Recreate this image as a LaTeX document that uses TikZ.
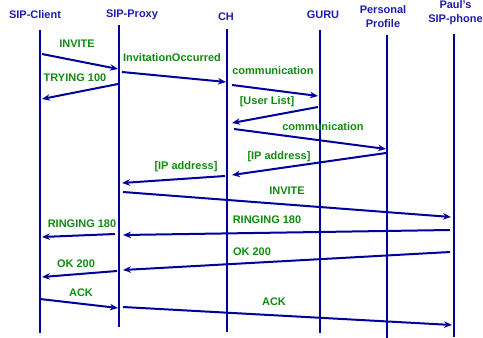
\documentclass[tikz,border=0pt]{standalone}
\usepackage{fontspec}
\setmainfont{Liberation Sans}
\usetikzlibrary{arrows.meta}
\definecolor{lifeblue}{HTML}{00009C}
\definecolor{headblue}{HTML}{1C1CB0}
\definecolor{lblgreen}{HTML}{118C11}

\begin{document}
\begin{tikzpicture}[x=1pt,y=-1pt,
  life/.style={line width=2.9pt,color=lifeblue},
  msg/.style={line width=2pt,color=lifeblue,-{Stealth[length=8pt,width=6.5pt]}},
  head/.style={font=\bfseries\fontsize{11}{14}\selectfont,text=headblue,align=center,inner sep=0pt},
  lbl/.style={font=\bfseries\fontsize{11}{13}\selectfont,text=lblgreen,inner sep=0pt}]
  \useasboundingbox (0,0) rectangle (483,338);
  % headers
  \node[head] (hClient) at (35,15) {SIP-Client};
  \node[head] (hProxy) at (132,15) {SIP-Proxy};
  \node[head] (hCH) at (226,17) {CH};
  \node[head] (hGuru) at (323,15) {GURU};
  \node[head] (hProfile) at (383,17) {Personal\\Profile};
  \node[head] (hPhone) at (455.5,13) {Paul’s\\SIP-phone};
  % lifelines
  \coordinate (lClientT) at (40,30);   \coordinate (lClientB) at (40,333);
  \coordinate (lProxyT) at (119,25);   \coordinate (lProxyB) at (119,327);
  \coordinate (lCHT) at (227,29);      \coordinate (lCHB) at (227,332);
  \coordinate (lGuruT) at (320,30);    \coordinate (lGuruB) at (320,333);
  \coordinate (lProfileT) at (387,35); \coordinate (lProfileB) at (387,338);
  \coordinate (lPhoneT) at (454,34);   \coordinate (lPhoneB) at (454,337);
  \draw[life] (lClientT) -- (lClientB);
  \draw[life] (lProxyT) -- (lProxyB);
  \draw[life] (lCHT) -- (lCHB);
  \draw[life] (lGuruT) -- (lGuruB);
  \draw[life] (lProfileT) -- (lProfileB);
  \draw[life] (lPhoneT) -- (lPhoneB);
  % message end points
  \coordinate (m1a) at (42,54);   \coordinate (m1b) at (118,69);
  \coordinate (m2a) at (122,72);  \coordinate (m2b) at (226,82);
  \coordinate (m3a) at (118,84);  \coordinate (m3b) at (42,99);
  \coordinate (m4a) at (232,85);  \coordinate (m4b) at (318,96);
  \coordinate (m5a) at (318,107); \coordinate (m5b) at (232,123);
  \coordinate (m6a) at (234,129); \coordinate (m6b) at (386,149);
  \coordinate (m7a) at (386,153); \coordinate (m7b) at (232,175);
  \coordinate (m8a) at (225,176); \coordinate (m8b) at (122,183);
  \coordinate (m9a) at (123,192); \coordinate (m9b) at (451,217);
  \coordinate (m10a) at (450,230); \coordinate (m10b) at (123,235);
  \coordinate (m11a) at (115,234); \coordinate (m11b) at (42,237);
  \coordinate (m12a) at (450,252); \coordinate (m12b) at (123,270);
  \coordinate (m13a) at (117,271); \coordinate (m13b) at (42,277);
  \coordinate (m14a) at (40,299);  \coordinate (m14b) at (118,308);
  \coordinate (m15a) at (123,307); \coordinate (m15b) at (452,325);
  % messages
  \draw[msg] (m1a) -- (m1b);
  \draw[msg] (m2a) -- (m2b);
  \draw[msg] (m3a) -- (m3b);
  \draw[msg] (m4a) -- (m4b);
  \draw[msg] (m5a) -- (m5b);
  \draw[msg] (m6a) -- (m6b);
  \draw[msg] (m7a) -- (m7b);
  \draw[msg] (m8a) -- (m8b);
  \draw[msg] (m9a) -- (m9b);
  \draw[msg] (m10a) -- (m10b);
  \draw[msg] (m11a) -- (m11b);
  \draw[msg] (m12a) -- (m12b);
  \draw[msg] (m13a) -- (m13b);
  \draw[msg] (m14a) -- (m14b);
  \draw[msg] (m15a) -- (m15b);
  % message labels
  \node[lbl] (t1) at (77,44) {INVITE};
  \node[lbl] (t2) at (172,58) {InvitationOccurred};
  \node[lbl] (t3) at (75,78) {TRYING 100};
  \node[lbl] (t4) at (273,71) {communication};
  \node[lbl] (t5) at (267,102) {[User List]};
  \node[lbl] (t6) at (323,127) {communication};
  \node[lbl] (t7) at (279,157) {[IP address]};
  \node[lbl] (t8) at (186,167) {[IP address]};
  \node[lbl] (t9) at (287,191) {INVITE};
  \node[lbl] (t10) at (267,220) {RINGING 180};
  \node[lbl] (t11) at (82,224) {RINGING 180};
  \node[lbl] (t12) at (252,252) {OK 200};
  \node[lbl] (t13) at (76,264) {OK 200};
  \node[lbl] (t14) at (81,293) {ACK};
  \node[lbl] (t15) at (274,302) {ACK};
\end{tikzpicture}
\end{document}
